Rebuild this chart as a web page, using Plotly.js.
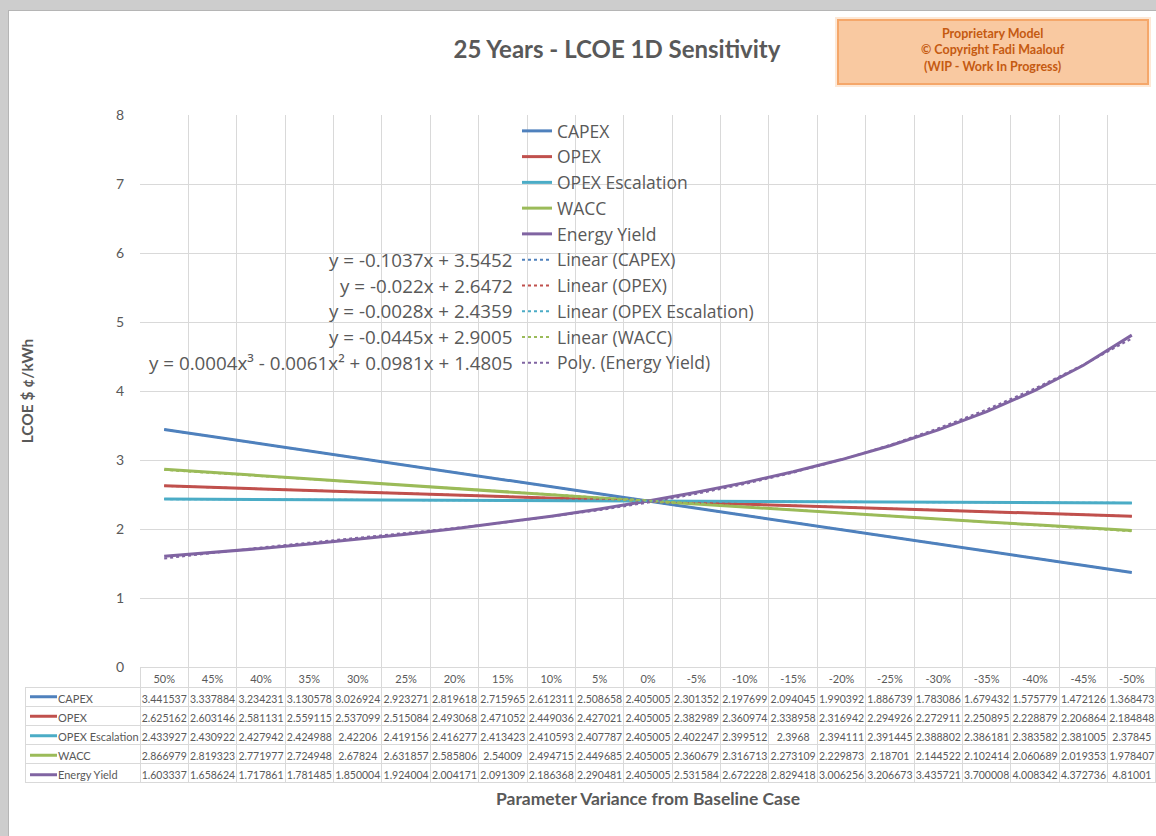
<!DOCTYPE html>
<html>
<head>
<meta charset="utf-8">
<script src="https://cdn.plot.ly/plotly-3.0.1.min.js"></script>
<style>
  html, body { margin: 0; padding: 0; width: 1156px; height: 836px; overflow: hidden; background: #cdcdcd; }
  #frame { position: absolute; left: 8px; top: 10px; width: 1148px; height: 826px; background: #b5b5b5; }
  #chart { position: absolute; left: 9px; top: 11px; width: 1147px; height: 825px; background: #ffffff; }
</style>
</head>
<body>
<div id="frame"></div>
<div id="chart"></div>
<script>
// ---------------- DATA ----------------
const categories = ["50%","45%","40%","35%","30%","25%","20%","15%","10%","5%","0%","-5%","-10%","-15%","-20%","-25%","-30%","-35%","-40%","-45%","-50%"];

const seriesNames = ["CAPEX", "OPEX", "OPEX Escalation", "WACC", "Energy Yield"];

const capex = [3.441537, 3.337884, 3.234231, 3.130578, 3.026924, 2.923271, 2.819618, 2.715965, 2.612311, 2.508658, 2.405005, 2.301352, 2.197699, 2.094045, 1.990392, 1.886739, 1.783086, 1.679432, 1.575779, 1.472126, 1.368473];
const opex = [2.625162, 2.603146, 2.581131, 2.559115, 2.537099, 2.515084, 2.493068, 2.471052, 2.449036, 2.427021, 2.405005, 2.382989, 2.360974, 2.338958, 2.316942, 2.294926, 2.272911, 2.250895, 2.228879, 2.206864, 2.184848];
const opexEscalation = [2.433927, 2.430922, 2.427942, 2.424988, 2.42206, 2.419156, 2.416277, 2.413423, 2.410593, 2.407787, 2.405005, 2.402247, 2.399512, 2.3968, 2.394111, 2.391445, 2.388802, 2.386181, 2.383582, 2.381005, 2.37845];
const wacc = [2.866979, 2.819323, 2.771977, 2.724948, 2.67824, 2.631857, 2.585806, 2.54009, 2.494715, 2.449685, 2.405005, 2.360679, 2.316713, 2.273109, 2.229873, 2.18701, 2.144522, 2.102414, 2.060689, 2.019353, 1.978407];
const energyYield = [1.603337, 1.658624, 1.717861, 1.781485, 1.850004, 1.924004, 2.004171, 2.091309, 2.186368, 2.290481, 2.405005, 2.531584, 2.672228, 2.829418, 3.006256, 3.206673, 3.435721, 3.700008, 4.008342, 4.372736, 4.81001];

const trendNames = ["Linear (CAPEX)", "Linear (OPEX)", "Linear (OPEX Escalation)", "Linear (WACC)", "Poly. (Energy Yield)"];
const trendDegrees = [1, 1, 1, 1, 3];
const trendEquations = [
  "y = -0.1037x + 3.5452",
  "y = -0.022x + 2.6472",
  "y = -0.0028x + 2.4359",
  "y = -0.0445x + 2.9005",
  "y = 0.0004x³ - 0.0061x² + 0.0981x + 1.4805"
];

const seriesColors = ["#4F81BD", "#C0504D", "#4BACC6", "#9BBB59", "#8064A2"];

const titleText = "25 Years - LCOE 1D Sensitivity";
const xTitle = "Parameter Variance from Baseline Case";
const yTitle = "LCOE $ ¢/kWh";
const noteText = "Proprietary Model<br>© Copyright Fadi Maalouf<br>(WIP - Work In Progress)";

// ---------------- HELPERS ----------------
const seriesValues = [capex, opex, opexEscalation, wacc, energyYield];

function polyfit(xs, ys, deg) {
  const n = deg + 1;
  const A = [];
  for (let i = 0; i < n; i++) A.push(new Array(n + 1).fill(0));
  for (let k = 0; k < xs.length; k++) {
    for (let i = 0; i < n; i++) {
      for (let j = 0; j < n; j++) A[i][j] += Math.pow(xs[k], i + j);
      A[i][n] += ys[k] * Math.pow(xs[k], i);
    }
  }
  for (let c = 0; c < n; c++) {
    let p = c;
    for (let r = c + 1; r < n; r++) if (Math.abs(A[r][c]) > Math.abs(A[p][c])) p = r;
    [A[c], A[p]] = [A[p], A[c]];
    for (let r = 0; r < n; r++) {
      if (r === c) continue;
      const f = A[r][c] / A[c][c];
      for (let j = c; j <= n; j++) A[r][j] -= f * A[c][j];
    }
  }
  return A.map((row, i) => row[n] / row[i]);
}

const FONT = "Lato, 'Open Sans', sans-serif";
const LFONT = "'Open Sans', Lato, sans-serif";
const GRAY = "#595959";
const GRID = "#D9D9D9";

// geometry helpers (chart div pixel -> paper fraction)
const ML = 16, MT = 104, MB = 20, W = 1147, H = 825;
const RW = W - ML, RH = H - MT - MB;
const px = d => (d - ML) / RW;
const py = d => (H - MB - d) / RH;

// ---------------- TRACES ----------------
const traces = [];
seriesNames.forEach((name, i) => {
  traces.push({
    type: "scatter", mode: "lines", name: name,
    x: categories, y: seriesValues[i],
    line: { color: seriesColors[i], width: 3 }
  });
});

const idx = categories.map((c, i) => i + 1);
trendNames.forEach((name, i) => {
  const coef = polyfit(idx, seriesValues[i], trendDegrees[i]);
  const fitted = idx.map(x => coef.reduce((s, a, p) => s + a * Math.pow(x, p), 0));
  traces.push({
    type: "scatter", mode: "lines", name: name,
    x: categories, y: fitted,
    line: { color: seriesColors[i], width: 2, dash: "dot" }
  });
});

// data table below the plot
const tableTop = 656, headerH = 20, rowH = 19;
const tableCols = [seriesNames.map(() => "")].concat(categories.map((c, j) => seriesValues.map(s => String(s[j]))));
traces.push({
  type: "table",
  domain: { x: [0, 1], y: [0, py(tableTop)] },
  columnwidth: [115].concat(categories.map(() => 1016 / 21)),
  header: {
    values: [""].concat(categories),
    height: headerH,
    align: "center",
    fill: { color: "rgba(255,255,255,0)" },
    line: { color: ["rgba(0,0,0,0)"].concat(categories.map(() => GRID)), width: 1 },
    font: { family: FONT, size: 11, color: GRAY }
  },
  cells: {
    values: tableCols,
    height: rowH,
    align: ["left"].concat(categories.map(() => "center")),
    fill: { color: "rgba(255,255,255,0)" },
    line: { color: GRID, width: 1 },
    font: { family: FONT, size: 10.5, color: GRAY }
  }
});
// series names in the table's first column (after the key lines)
traces.push({
  type: "table",
  domain: { x: [px(41), px(260)], y: [0, py(tableTop)] },
  columnwidth: [1],
  header: { values: [""], height: headerH, fill: { color: "rgba(0,0,0,0)" }, line: { color: "rgba(0,0,0,0)", width: 0 } },
  cells: {
    values: [seriesNames], height: rowH, align: "left",
    fill: { color: "rgba(0,0,0,0)" }, line: { color: "rgba(0,0,0,0)", width: 0 },
    font: { family: FONT, size: 11, color: GRAY }
  }
});

// ---------------- LAYOUT ----------------
const firstItemCenter = 120, itemH = 25.75;
const annotations = trendEquations.map((eq, i) => ({
  text: eq, xref: "paper", yref: "paper",
  x: px(506), y: py(firstItemCenter + itemH * (i + 5)),
  xanchor: "right", yanchor: "middle", showarrow: false,
  font: { family: LFONT, size: 18.8, color: GRAY }
}));
annotations.push({
  text: noteText, xref: "paper", yref: "paper",
  x: px(984), y: py(39),
  xanchor: "center", yanchor: "middle", showarrow: false, align: "center",
  font: { family: FONT, size: 12.5, color: "#C55A11", weight: "bold" }
});

const shapes = [
  { type: "rect", xref: "paper", yref: "paper", layer: "below",
    x0: px(826), x1: px(1142), y0: py(76), y1: py(6),
    fillcolor: "rgba(247,150,70,0.22)", line: { width: 0 } },
  { type: "rect", xref: "paper", yref: "paper", layer: "below",
    x0: px(829), x1: px(1139), y0: py(73), y1: py(9),
    fillcolor: "#F9C9A1", line: { color: "#F5A76A", width: 2 } }
];
// legend keys of the data table rows
seriesColors.forEach((c, i) => {
  const yc = tableTop + headerH + 19.5 * (i + 0.5);
  shapes.push({ type: "line", xref: "paper", yref: "paper",
    x0: px(21), x1: px(48), y0: py(yc), y1: py(yc),
    line: { color: c, width: 3 } });
});

const layout = {
  width: W, height: H,
  margin: { l: ML, r: 0, t: MT, b: MB },
  paper_bgcolor: "#ffffff", plot_bgcolor: "#ffffff",
  font: { family: FONT, color: GRAY },
  title: {
    text: titleText, xref: "container", yref: "container",
    x: 608 / W, y: 1 - 39 / H, xanchor: "center", yanchor: "middle",
    font: { family: FONT, size: 24, color: GRAY, weight: "bold" }
  },
  showlegend: true,
  legend: {
    x: px(508), y: py(102),
    xanchor: "left", yanchor: "top",
    bgcolor: "rgba(0,0,0,0)", borderwidth: 0,
    font: { family: LFONT, size: 17.5, color: GRAY },
    traceorder: "normal"
  },
  xaxis: {
    type: "category", categoryorder: "array", categoryarray: categories,
    domain: [px(131), 1], range: [-0.5, 20.5],
    tickson: "boundaries", showgrid: true, gridcolor: GRID, gridwidth: 1,
    showticklabels: false, ticks: "", showline: true, linecolor: GRID, zeroline: false,
    automargin: false,
    title: { text: xTitle, standoff: 125, font: { family: FONT, size: 17.5, color: GRAY, weight: "bold" } }
  },
  yaxis: {
    domain: [py(656), 1], range: [0, 8], dtick: 1,
    showgrid: true, gridcolor: GRID, gridwidth: 1, zeroline: false, showline: false,
    ticks: "", ticklabelstandoff: 15,
    tickfont: { family: FONT, size: 14, color: GRAY },
    automargin: false,
    title: { text: yTitle, standoff: 78, font: { family: FONT, size: 15.5, color: GRAY, weight: "bold" } }
  },
  shapes: shapes,
  annotations: annotations
};

Plotly.newPlot("chart", traces, layout, { displayModeBar: false, staticPlot: true });
</script>
</body>
</html>
